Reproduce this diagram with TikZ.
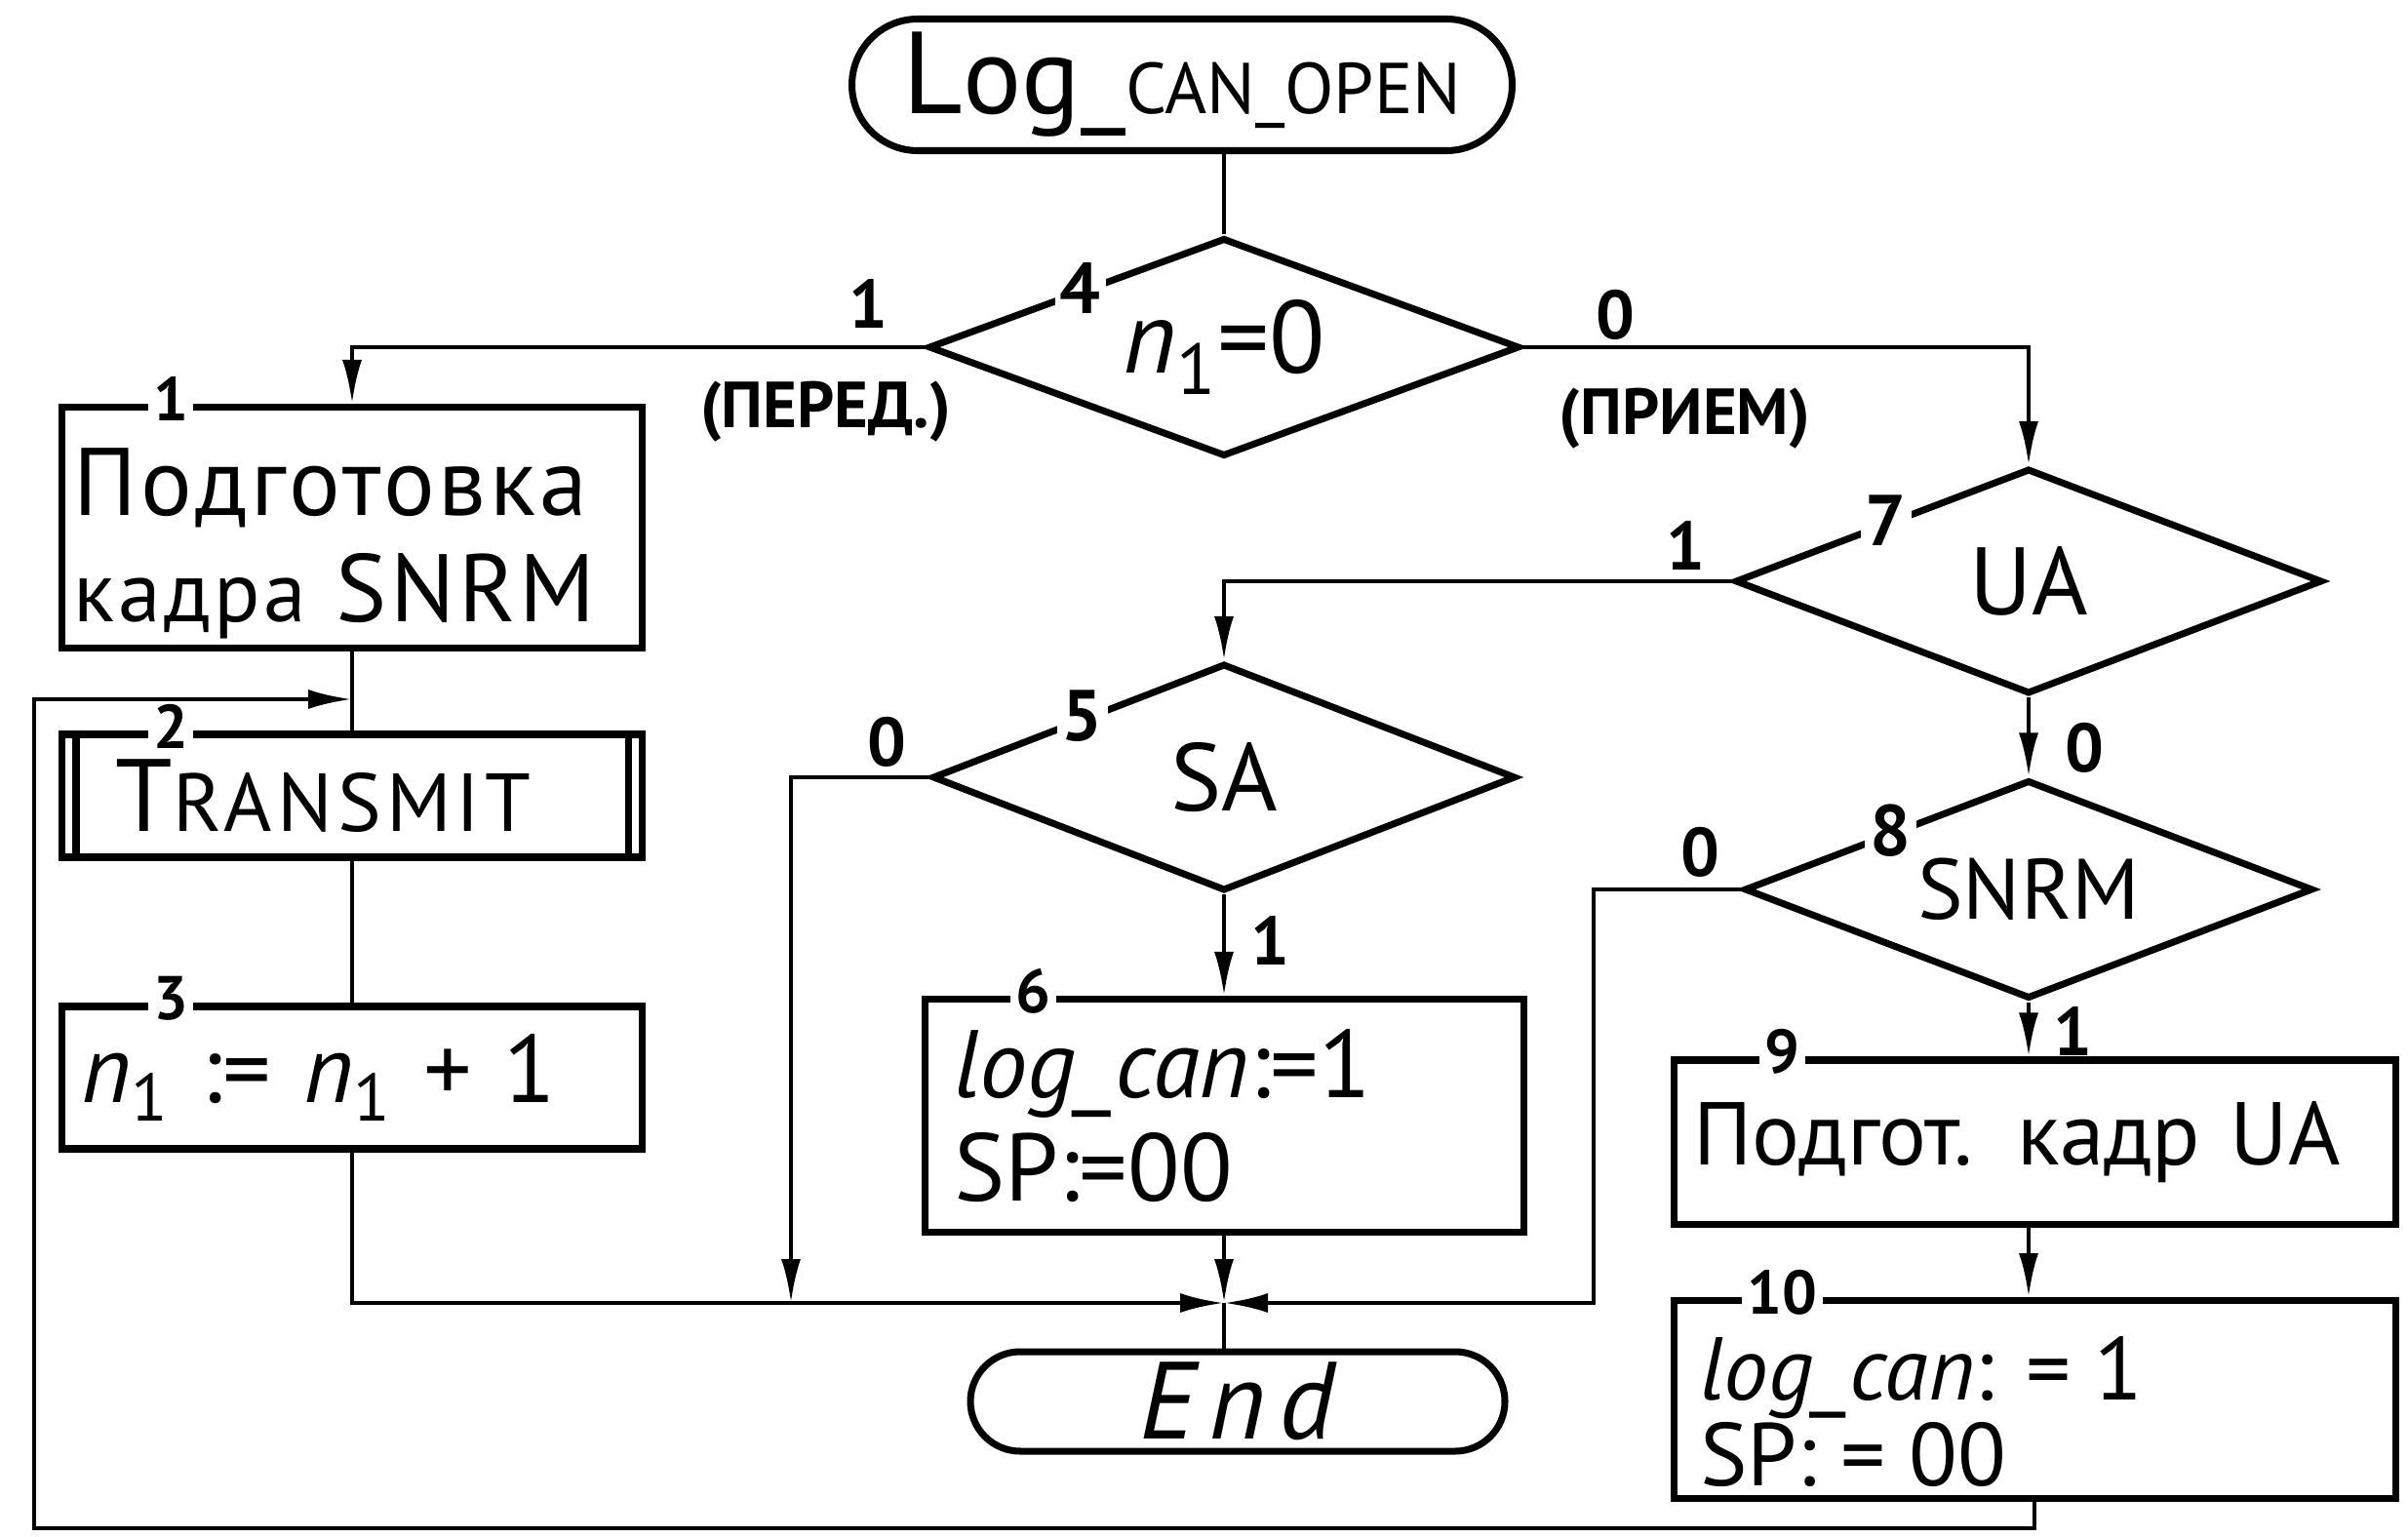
\documentclass[tikz,border=0pt]{standalone}
\usepackage{fontspec}
\setmainfont{PT Sans}
\usetikzlibrary{shapes.geometric, shapes.misc, arrows.meta, calc}
\newcommand{\nOne}{\textit{n}\textsubscript{1}}
\newcommand{\fsz}[1]{\fontsize{#1}{1.2\dimexpr#1pt\relax}\selectfont}

\begin{document}
\begin{tikzpicture}[
    font=\fsz{26},
    shapeline/.style={draw, line width=2pt},
    terminal/.style={shapeline, rounded rectangle, inner sep=0pt},
    decision/.style={shapeline, diamond, aspect=2.6, inner sep=0pt},
    procbox/.style={shapeline, rectangle, align=left, inner xsep=0.3cm, inner ysep=0pt},
    conn/.style={line width=1.3pt},
    arr/.style={conn, -{Latex[length=4.5mm, width=2mm]}},
    numlbl/.style={fill=white, inner sep=1.5pt, font=\bfseries\fsz{18}},
    brlbl/.style={inner sep=0pt, font=\bfseries\fsz{20}}
  ]
    \useasboundingbox (0,0) rectangle (24.69,15.75);

    % Start / end
    \node[terminal, minimum width=6.77cm, minimum height=1.35cm] (start) at (12.12,14.88)
      {{\fsz{34}L}{\fsz{32}og\_}{\fsz{21}CAN\_OPEN}};
    \node[terminal, minimum width=5.48cm, minimum height=1.02cm] (finish) at (12.69,1.38)
      {\itshape\fsz{32}\addfontfeature{LetterSpace=12}End};

    % Decisions
    \node[decision, minimum width=6.06cm, minimum height=2.24cm, font=\fsz{30}] (d4) at (12.55,12.19) {\nOne=0};
    \node[decision, minimum width=5.98cm, minimum height=2.33cm, font=\fsz{28}] (d5) at (12.55,7.78) {SA};
    \node[decision, minimum width=6.02cm, minimum height=2.31cm, font=\fsz{28}] (d7) at (20.8,9.79) {UA};
    \node[decision, minimum width=5.83cm, minimum height=2.24cm, font=\fsz{25}] (d8) at (20.8,6.63) {SNRM};

    % Blocks
    \node[shapeline, minimum width=5.95cm, minimum height=2.47cm] (b1) at (3.61,10.34) {};
    \node[align=left, anchor=south west, inner sep=0pt,
      font=\fontsize{28}{31}\selectfont\addfontfeature{LetterSpace=4}] (t1)
      at ([shift={(0.15,0.12)}]b1.south west) {Подготовка\\{\fsz{25}кадра} SNRM};
    \node[procbox, text width=4.85cm, minimum height=1.26cm, inner xsep=0.55cm] (b2) at (3.61,7.59)
      {\addfontfeature{LetterSpace=6}{\fsz{30}T}{\fsz{24}RANSMIT}};
    \node[procbox, text width=5.55cm, minimum height=1.46cm, inner xsep=0.2cm, font=\fsz{28}] (b3) at (3.61,4.70)
      {\nOne~:= \nOne~+ 1};
    \node[procbox, text width=5.54cm, minimum height=2.39cm, font=\fontsize{28}{30}\selectfont] (b6) at (12.55,4.31)
      {\textit{log\_can}:=1\\SP:=00};
    \node[procbox, text width=7.0cm, minimum height=1.68cm, inner xsep=0.2cm, font=\fsz{26}] (b9) at (20.86,4.04)
      {Подгот. кадр UA};
    \node[shapeline, minimum width=7.4cm, minimum height=2.03cm] (b10) at (20.86,1.40) {};
    \node[align=left, anchor=south west, inner sep=0pt, font=\fontsize{26}{24}\selectfont] (t10)
      at ([shift={(0.3,0.15)}]b10.south west) {\textit{log\_can}: = 1\\SP: = 00};
    \draw[line width=2pt] ([xshift=0.18cm]b2.north west) -- ([xshift=0.18cm]b2.south west)
      ([xshift=-0.18cm]b2.north east) -- ([xshift=-0.18cm]b2.south east);

    % Numbers
    \foreach \b/\n in {b1/1, b2/2, b3/3, b6/6, b9/9, b10/10}
      \node[numlbl] (n\n) at ([xshift=1.15cm, yshift=0.05cm]\b.north west) {\n};
    \foreach \d/\n in {d4/4, d5/5, d7/7, d8/8}
      \node[numlbl, font=\bfseries\fsz{21}] (n\n) at ($(\d.west)!0.52!(\d.north)$) {\n};

    % Connectors
    \coordinate (m) at (12.55,2.39);
    \coordinate (j5) at (8.11,2.39);
    \coordinate (j8) at (16.34,2.39);
    \coordinate (lb) at (0.35,0.08);
    \coordinate (lt) at (0.35,8.58);
    \draw[conn] (d4.north |- start.south) -- (d4.north);
    \draw[arr] (d4.west) -| (b1.north);
    \draw[arr] (d4.east) -| (d7.north);
    \draw[conn] (b1.south) -- (b2.north);
    \draw[conn] (b2.south) -- (b3.north);
    \draw[arr] (b3.south) |- (m);
    \draw[arr] (b6.south) -- (m);
    \draw[conn] (m) -- (m |- finish.north);
    \draw[arr] (d5.west) -| (j5);
    \draw[arr] (d5.south) -- (b6.north);
    \draw[arr] (d7.west) -| (d5.north);
    \draw[arr] (d7.south) -- (d8.north);
    \draw[arr] (d8.west) -| (j8) -- (m);
    \draw[arr] (d8.south) -- (d8.south |- b9.north);
    \draw[arr] (b9.south -| d8.south) -- (d8.south |- b10.north);
    \draw[arr] (b10.south) |- (lb) -- (lt) -- (lt -| b1.south);

    % Branch labels
    \foreach \a/\dx/\dy/\t [count=\i] in {d4.west/-0.58/0.45/1, d4.east/0.95/0.33/0,
        d7.west/-0.47/0.37/1, d7.south/0.57/-0.52/0, d5.west/-0.43/0.36/0,
        d5.south/0.47/-0.47/1, d8.west/-0.42/0.38/0, d8.south/0.45/-0.30/1}
      \node[brlbl] (br\i) at ([shift={(\dx,\dy)}]\a) {\t};
    \node[brlbl, font=\bfseries\fsz{19}] (tx) at ([shift={(-1.02,-0.66)}]d4.west) {(ПЕРЕД.)};
    \node[brlbl, font=\bfseries\fsz{19}] (rx) at ([shift={(1.66,-0.73)}]d4.east) {(ПРИЕМ)};
\end{tikzpicture}
\end{document}
